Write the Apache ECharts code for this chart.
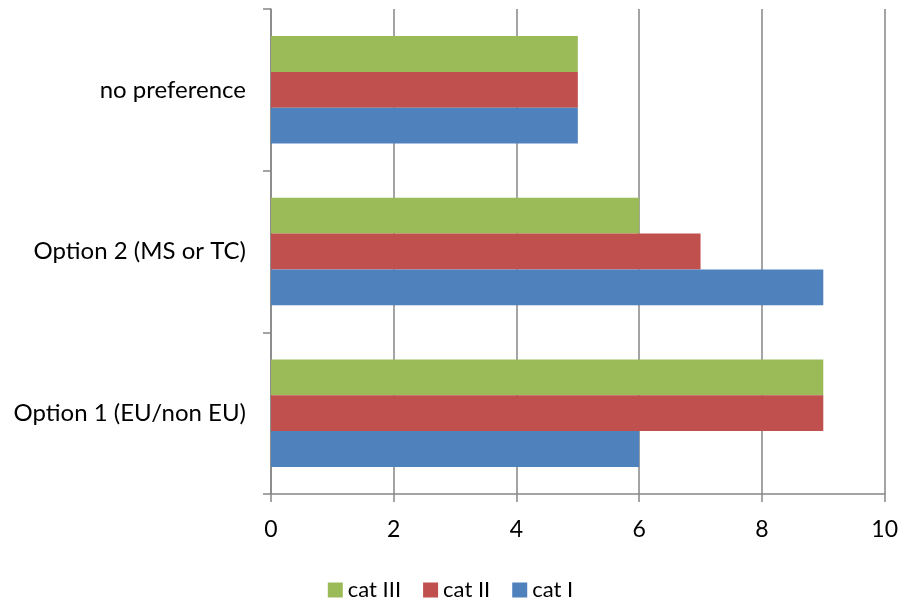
<!DOCTYPE html>
<html>
<head>
<meta charset="utf-8">
<script src="https://cdn.jsdelivr.net/npm/echarts@6/dist/echarts.min.js"></script>
<style>
  html, body { margin: 0; padding: 0; background: #ffffff; }
  #chart { width: 901px; height: 598px; }
</style>
</head>
<body>
<div id="chart"></div>
<script>
// Preference answers per category group
const categories = ['Option 1 (EU/non EU)', 'Option 2 (MS or TC)', 'no preference'];
const catI = [6, 9, 5];
const catII = [9, 7, 5];
const catIII = [9, 6, 5];
const legendOrder = ['cat III', 'cat II', 'cat I'];

const FONT = 'Lato, "Open Sans", sans-serif';
const AXIS_GRAY = '#868686';

const chart = echarts.init(document.getElementById('chart'), null, { renderer: 'canvas' });

const barSeries = (name, data, color) => ({
  name: name,
  type: 'bar',
  data: data,
  itemStyle: { color: color },
  barGap: '0%',
  barCategoryGap: '33.5%'
});

chart.setOption({
  animation: false,
  backgroundColor: '#ffffff',
  grid: { left: 271, right: 16, top: 9, bottom: 104, containLabel: false },
  legend: {
    data: legendOrder,
    top: 574,
    left: 'center',
    itemWidth: 15,
    itemHeight: 15,
    itemGap: 22,
    icon: 'rect',
    textStyle: { fontFamily: FONT, fontSize: 22, color: '#000000', padding: [0, 0, 0, 0] }
  },
  xAxis: {
    type: 'value',
    min: 0,
    max: 10,
    interval: 2,
    axisLine: { show: true, lineStyle: { color: AXIS_GRAY, width: 1.5 } },
    axisTick: { show: true, length: 8, inside: false, lineStyle: { color: AXIS_GRAY, width: 1.5 } },
    splitLine: { show: true, lineStyle: { color: AXIS_GRAY, width: 1.5 } },
    axisLabel: { fontFamily: FONT, fontSize: 23, color: '#000000', margin: 24 }
  },
  yAxis: {
    type: 'category',
    data: categories,
    axisLine: { show: true, lineStyle: { color: AXIS_GRAY, width: 1.5 } },
    axisTick: { show: true, length: 8, inside: false, lineStyle: { color: AXIS_GRAY, width: 1.5 } },
    axisLabel: { fontFamily: FONT, fontSize: 24, color: '#000000', margin: 25 }
  },
  // series order places cat III at the top of each group
  series: [
    barSeries('cat III', catIII, '#9BBB59'),
    barSeries('cat II', catII, '#C0504D'),
    barSeries('cat I', catI, '#4F81BD')
  ]
});
</script>
</body>
</html>
